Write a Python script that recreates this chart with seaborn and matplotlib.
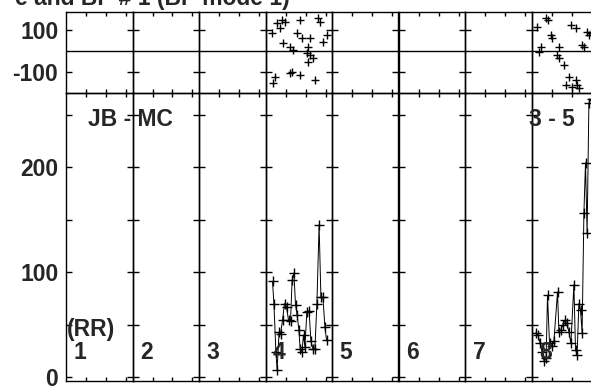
import matplotlib
matplotlib.use('Agg')
import matplotlib.pyplot as plt
import seaborn as sns
import pandas as pd

# ---------------- data ----------------
title_text = "e and BP # 1 (BP mode 1)"
segment_labels = ["1", "2", "3", "4", "5", "6", "7", "8"]
top_yticks = [-100, 100]
top_yticklabels = ["-100", "100"]
bot_yticks = [0, 50, 100, 150, 200, 250]
bot_yticklabels = ["0", "", "100", "", "200", ""]

# segment 4 (index 3): phase (top) and value (bottom)
seg4_phase_x = [0.30, 0.55, 0.72, 0.80, 0.97, 0.88, 1.22, 1.30, 1.22, 1.38, 1.55, 1.72,
                1.72, 1.80, 2.05, 2.13, 2.22, 2.22, 2.38, 2.47, 2.63, 2.72, 2.88, 3.05,
                0.47, 0.38, 2.13]
seg4_phase_y = [84, 132, 108, 148, 140, 37, 21, -98, -106, 5, 84, 148,
                -114, 60, -11, 21, 60, -19, -35, -138, 155, 140, 44, 76,
                -122, -154, -51]
seg4_val_x = [0.35, 0.42, 0.52, 0.58, 0.68, 0.75, 0.85, 0.95, 1.05, 1.15, 1.25, 1.33,
              1.42, 1.50, 1.58, 1.67, 1.73, 1.82, 1.90, 1.97, 2.07, 2.18, 2.27, 2.37,
              2.47, 2.57, 2.68, 2.77, 2.87, 2.97, 3.05]
seg4_val_y = [91, 70, 24, 7, 43, 41, 54, 70, 67, 54, 53, 92,
              99, 69, 59, 45, 27, 24, 40, 29, 62, 63, 34, 27,
              27, 70, 145, 76, 76, 48, 35]

# segment 8 (index 7)
seg8_phase_x = [0.28, 0.45, 0.37, 0.70, 0.83, 0.95, 1.03, 1.37, 1.28, 1.37, 1.62, 1.95,
                2.20, 2.53, 2.62, 2.78, 2.87, 2.95, 1.87, 1.70, 2.03, 2.20, 2.37, 2.28]
seg8_phase_y = [116, 21, -3, 156, 148, 76, 60, 21, -19, -35, -67, 124,
                108, 29, 21, 92, 76, 84, -122, -162, -170, -138, -178, -162]
seg8_val_x = [0.20, 0.33, 0.43, 0.53, 0.63, 0.73, 0.80, 0.90, 1.00, 1.12, 1.30, 1.37,
              1.47, 1.57, 1.67, 1.77, 1.87, 1.97, 2.12, 2.20, 2.28, 2.37, 2.45, 2.53,
              2.62, 2.70, 2.78, 2.87, 3.00]
seg8_val_y = [42, 40, 32, 24, 15, 18, 78, 32, 30, 34, 81, 43,
              45, 50, 54, 51, 43, 32, 88, 26, 21, 70, 64, 42,
              156, 204, 137, 261, 265]

phase_data = {3: (seg4_phase_x, seg4_phase_y), 7: (seg8_phase_x, seg8_phase_y)}
value_data = {3: (seg4_val_x, seg4_val_y), 7: (seg8_val_x, seg8_val_y)}

# ---------------- style ----------------
sns.set_style('white')
plt.rcParams['font.family'] = ['Liberation Sans', 'DejaVu Sans']
plt.rcParams['font.weight'] = 'bold'
FS = 16.5

W, H = 591, 387
fig = plt.figure(figsize=(W / 100, H / 100), dpi=100)


def px_box(left, top, width, height):
    return [left / W, 1 - (top + height) / H, width / W, height / H]


PANEL_LEFT = 66.0
PANEL_W = 66.5
TOP_T, TOP_B = 12.0, 92.7
BOT_T, BOT_B = 92.7, 380.7


def style_axes(ax):
    for s in ax.spines.values():
        s.set_linewidth(1.0)
        s.set_color('black')
    ax.set_xlim(0, PANEL_W / 20.0)
    ax.set_xticks([1, 2, 3])
    ax.set_xticklabels([])
    ax.tick_params(axis='x', direction='in', top=True, bottom=True, length=3,
                   width=1.0, color='black')
    ax.tick_params(axis='y', direction='in', left=True, right=True, length=4,
                   width=1.0, color='black', labelsize=FS, pad=5.5)
    ax.set_xlabel('')
    ax.set_ylabel('')
    ax.set_facecolor('none')


for i in range(8):
    left = PANEL_LEFT + i * PANEL_W
    ax_t = fig.add_axes(px_box(left, TOP_T, PANEL_W, TOP_B - TOP_T))
    ax_b = fig.add_axes(px_box(left, BOT_T, PANEL_W, BOT_B - BOT_T))

    if i in phase_data:
        px, py = phase_data[i]
        sns.scatterplot(x=px, y=py, ax=ax_t, marker='+', s=40, color='black',
                        linewidth=1.0, legend=False)
    if i in value_data:
        vx, vy = value_data[i]
        sns.lineplot(x=vx, y=vy, ax=ax_b, sort=False, color='black', linewidth=0.7,
                     marker='+', markersize=7, markeredgewidth=1.0,
                     markeredgecolor='black', legend=False)

    ax_t.axhline(0, color='black', linewidth=1.0)
    ax_t.set_ylim((51 - TOP_B) / 0.21, (51 - TOP_T) / 0.21)
    ax_t.set_yticks(top_yticks)
    ax_b.set_ylim((377 - BOT_B) / 1.05, (377 - BOT_T) / 1.05)
    ax_b.set_yticks(bot_yticks)
    style_axes(ax_t)
    style_axes(ax_b)
    if i == 0:
        ax_t.set_yticklabels(top_yticklabels, fontweight='bold')
        ax_b.set_yticklabels(bot_yticklabels, fontweight='bold')
    else:
        ax_t.set_yticklabels([])
        ax_b.set_yticklabels([])

    fig.text((left + 7.5) / W, 1 - 359 / H, segment_labels[i], fontsize=FS,
             fontweight='bold', ha='left', va='baseline')


def ftext(x, y, s, **kw):
    fig.text(x / W, 1 - y / H, s, fontsize=FS, fontweight='bold', va='baseline', **kw)


ftext(67, 336, "(RR)", ha='left')
ftext(88.5, 126, "JB - MC", ha='left')
ftext(574.5, 126, "3 - 5", ha='right')
ftext(290, 5.5, title_text, ha='right')

fig.savefig('out.png', dpi=100)
